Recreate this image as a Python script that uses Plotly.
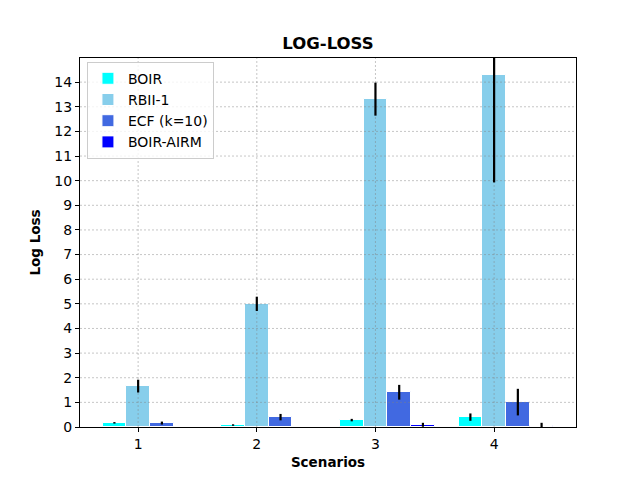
import plotly.graph_objects as go

# Data
scenarios = [1, 2, 3, 4]
methods = ["BOIR", "RBII-1", "ECF (k=10)", "BOIR-AIRM"]
colors = ["#00FFFF", "#87CEEB", "#4169E1", "#0000FF"]

boir = [0.17, 0.08, 0.28, 0.40]
boir_err = [0.03, 0.03, 0.05, 0.15]
rbii = [1.66, 5.00, 13.31, 14.30]
rbii_err = [0.26, 0.29, 0.67, 4.37]
ecf = [0.16, 0.40, 1.41, 1.01]
ecf_err = [0.06, 0.13, 0.30, 0.54]
airm = [0.01, 0.01, 0.09, 0.05]
airm_err = [0.0, 0.0, 0.08, 0.12]

y_ticks = list(range(0, 15))

values = [boir, rbii, ecf, airm]
errors = [boir_err, rbii_err, ecf_err, airm_err]
offsets = [-0.2, 0.0, 0.2, 0.4]
bar_width = 0.2
x_range = [0.51, 4.69]
y_range = [0, 14.98]

fig = go.Figure()
for name, vals, off, col in zip(methods, values, offsets, colors):
    fig.add_trace(
        go.Bar(
            x=[s + off for s in scenarios],
            y=vals,
            width=bar_width,
            name=name,
            marker=dict(color=col, line=dict(color="white", width=1)),
        )
    )

# grid sits above the bars but below the error bars (like matplotlib zorder)
gx, gy = [], []
for t in y_ticks[1:]:
    gx += [x_range[0], x_range[1], None]
    gy += [t, t, None]
for s in scenarios:
    gx += [s, s, None]
    gy += [y_range[0], y_range[1], None]
fig.add_trace(go.Scatter(x=gx, y=gy, mode="lines", showlegend=False,
                         hoverinfo="skip",
                         line=dict(color="rgba(128,128,128,0.45)", width=1,
                                   dash="2px,2px")))

for vals, errs, off in zip(values, errors, offsets):
    fig.add_trace(
        go.Scatter(
            x=[s + off for s in scenarios],
            y=vals,
            mode="markers",
            marker=dict(size=1, opacity=0),
            showlegend=False,
            hoverinfo="skip",
            error_y=dict(type="data", array=errs, color="black",
                         thickness=2.2, width=0),
        )
    )

font = dict(family="DejaVu Sans", size=14, color="black")

fig.update_layout(
    width=640,
    height=480,
    margin=dict(l=72, r=72, t=50, b=61),
    plot_bgcolor="white",
    paper_bgcolor="white",
    font=font,
    showlegend=True,
    title=dict(text="<b>LOG-LOSS</b>", x=0.5, xanchor="center",
               y=0.927, yanchor="middle", font=dict(size=16.5, family="DejaVu Sans")),
    legend=dict(x=0.014, y=0.99, xanchor="left", yanchor="top",
                bgcolor="rgba(255,255,255,0.8)", bordercolor="#cccccc",
                borderwidth=1, font=font),
    bargap=0,
)
fig.update_xaxes(
    range=x_range,
    tickvals=scenarios,
    ticks="outside", ticklen=4, tickcolor="black",
    showline=True, linecolor="black", linewidth=1, mirror=True,
    showgrid=False, zeroline=False,
    title=dict(text="<b>Scenarios</b>", font=dict(size=13.5), standoff=6),
)
fig.update_yaxes(
    range=y_range,
    tickvals=y_ticks,
    ticks="outside", ticklen=4, tickcolor="black",
    showline=True, linecolor="black", linewidth=1, mirror=True,
    showgrid=False, zeroline=False,
    title=dict(text="<b>Log Loss</b>", font=dict(size=13.5), standoff=10),
)

fig.write_html("out.html")
